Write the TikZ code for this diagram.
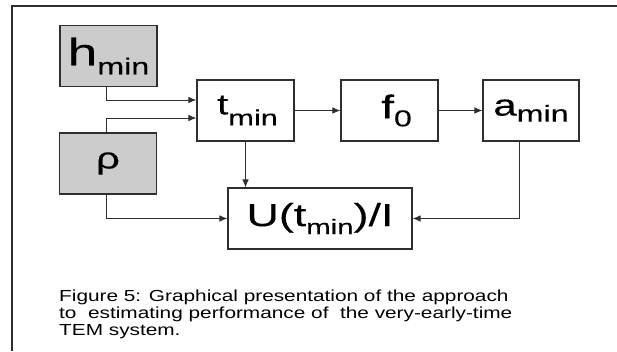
\documentclass[tikz,border=0pt]{standalone}
\usepackage{fontspec}
\setmainfont{Liberation Sans}
\newfontfamily\boxfont[FakeStretch=1.4,FakeBold=0.25]{Liberation Sans}
\newfontfamily\capfont[FakeStretch=1.3]{Liberation Sans}
\usetikzlibrary{arrows.meta}
\definecolor{boxgray}{HTML}{CCCCCC}
\definecolor{linegray}{HTML}{2E2E2E}
% \lowsub{size}{drop}{text}
\newcommand\lowsub[3]{\raisebox{-#2pt}{\fontsize{#1}{#1}\selectfont #3}}
\newcommand\bigsz[1]{\fontsize{#1}{#1}\selectfont}
\begin{document}
\begin{tikzpicture}[x=1pt,y=-1pt,
  blk/.style={draw=linegray,line width=1.1pt,minimum width=97pt,minimum height=61pt,inner sep=0pt,font=\boxfont},
  inp/.style={blk,fill=boxgray},
  arr/.style={draw=linegray,line width=0.9pt,-{Latex[length=8pt,width=6.5pt]}},
  captext/.style={anchor=base west,inner sep=0pt,font=\capfont\fontsize{16}{16}\selectfont}]
\useasboundingbox (0,0) rectangle (617,351);
\draw[linegray,line width=1.4pt] (12,351) -- (12,6) -- (617,6);
\node[inp] (hmin) at (108.5,56) {\bigsz{38}h\lowsub{23}{9}{min}};
\node[blk] (tmin) at (245.5,110.5) {\bigsz{29}\hspace{4pt}t\lowsub{22}{11}{min}};
\node[inp] (rho) at (108,163.5) {\bigsz{30}ρ};
\node[blk] (f0) at (389.5,110.5) {\bigsz{33}\hspace{14pt}f\lowsub{23}{8}{0}};
\node[blk,minimum width=96pt] (amin) at (531,110.5) {\bigsz{30}a\lowsub{23}{6}{min}};
\node[blk,minimum width=184pt] (U) at (320,218.5) {\bigsz{32}U(t\lowsub{21}{8}{min})/I};
\draw[arr] ([xshift=-2.5pt]hmin.south) |- ([yshift=10.5pt]tmin.west);
\draw[arr] ([xshift=-2pt]rho.north) |- ([yshift=-7.5pt]tmin.west);
\draw[arr] (tmin.east) -- (f0.west);
\draw[arr] (f0.east) -- (amin.west);
\draw[arr] (tmin.south) -- (tmin.south |- U.north);
\draw[arr] ([xshift=-2pt]rho.south) |- (U.west);
\draw[arr] ([xshift=-12pt]amin.south) |- (U.east);
\node[captext] (c1) at (59,301) {Figure 5: Graphical presentation of the approach};
\node[captext] (c2) at (59,318) {to\ \ estimating performance of\ \ the very-early-time};
\node[captext] (c3) at (59,335) {TEM system.};
\end{tikzpicture}
\end{document}
